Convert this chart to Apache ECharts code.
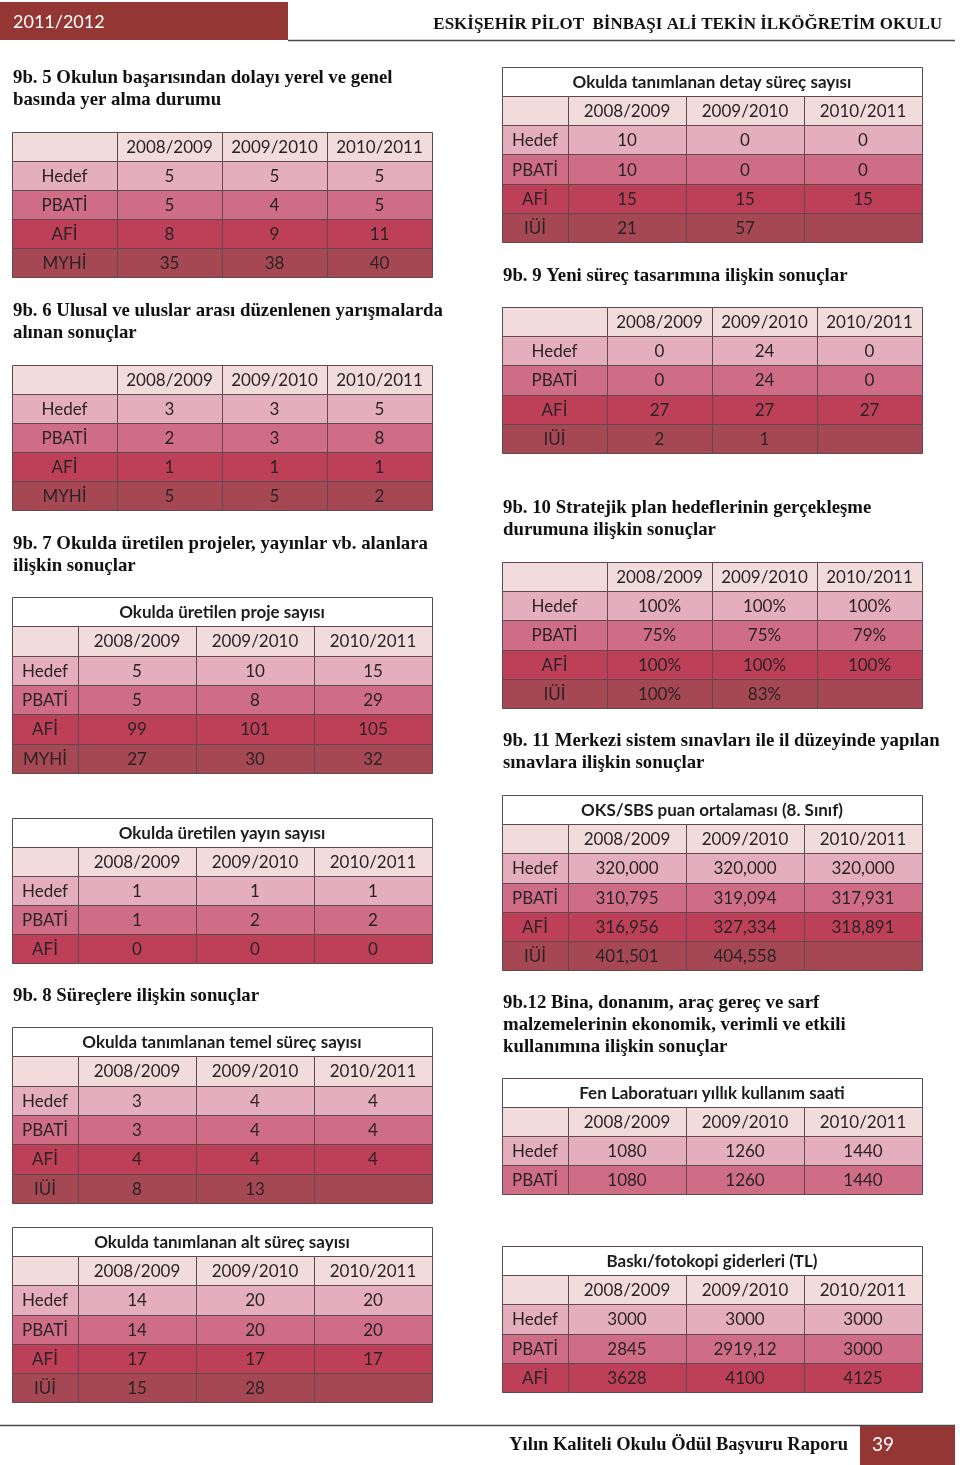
<!DOCTYPE html>
<html>
<head>
<meta charset="utf-8">
<script src="https://cdn.jsdelivr.net/npm/echarts@6/dist/echarts.min.js"></script>
<style>
  html, body { margin: 0; padding: 0; background: #fff; }
  #main { width: 960px; height: 1465px; }
</style>
</head>
<body>
<div id="main"></div>
<script>
// --- data ---
var years = ['2008/2009', '2009/2010', '2010/2011'];
var rowsMYHI = ['Hedef', 'PBATİ', 'AFİ', 'MYHİ'];
var rowsIUI = ['Hedef', 'PBATİ', 'AFİ', 'IÜİ'];
var rowsShort = ['Hedef', 'PBATİ', 'AFİ'];

var basinValues = [[5, 5, 5], [5, 4, 5], [8, 9, 11], [35, 38, 40]];
var yarismaValues = [[3, 3, 5], [2, 3, 8], [1, 1, 1], [5, 5, 2]];
var projeValues = [[5, 10, 15], [5, 8, 29], [99, 101, 105], [27, 30, 32]];
var yayinValues = [[1, 1, 1], [1, 2, 2], [0, 0, 0]];
var temelSurecValues = [[3, 4, 4], [3, 4, 4], [4, 4, 4], [8, 13, null]];
var altSurecValues = [[14, 20, 20], [14, 20, 20], [17, 17, 17], [15, 28, null]];
var detaySurecValues = [[10, 0, 0], [10, 0, 0], [15, 15, 15], [21, 57, null]];
var yeniSurecValues = [[0, 24, 0], [0, 24, 0], [27, 27, 27], [2, 1, null]];
var stratejikValues = [[100, 100, 100], [75, 75, 79], [100, 100, 100], [100, 83, null]];
var sbsValues = [[320.000, 320.000, 320.000], [310.795, 319.094, 317.931], [316.956, 327.334, 318.891], [401.501, 404.558, null]];
var fenLabValues = [[1080, 1260, 1440], [1080, 1260, 1440]];
var baskiValues = [[3000, 3000, 3000], [2845, 2919.12, 3000], [3628, 4100, 4125]];

// --- styles ---
var HEADER_FILL = '#f2dcdb';
var ROW_FILL = ['#e5aebe', '#cf6d86', '#be4058', '#a64853'];
var BORDER = '#5e4a4e';
var TEXT = '#2a2326';
var CELL_FONT = 'Lato';

var plain = function (v) { return String(v); };
var percent = function (v) { return v + '%'; };
var decimal3 = function (v) { return v.toFixed(3).replace('.', ','); };
var comma = function (v) { return String(v).replace('.', ','); };

var wide = [1, 1, 1, 1];
var narrow = [66, 118, 118, 118];

var tables = [
  { box: [12, 132, 420, 145], weights: wide, rows: rowsMYHI, values: basinValues, fmt: plain },
  { box: [12, 365, 420, 145], weights: wide, rows: rowsMYHI, values: yarismaValues, fmt: plain },
  { box: [12, 597, 420, 176], weights: narrow, title: 'Okulda üretilen proje sayısı', rows: rowsMYHI, values: projeValues, fmt: plain },
  { box: [12, 818, 420, 145], weights: narrow, title: 'Okulda üretilen yayın sayısı', rows: rowsShort, values: yayinValues, fmt: plain },
  { box: [12, 1027, 420, 176], weights: narrow, title: 'Okulda tanımlanan temel süreç sayısı', rows: rowsIUI, values: temelSurecValues, fmt: plain },
  { box: [12, 1227, 420, 175], weights: narrow, title: 'Okulda tanımlanan alt süreç sayısı', rows: rowsIUI, values: altSurecValues, fmt: plain },
  { box: [502, 67, 420, 175], weights: narrow, title: 'Okulda tanımlanan detay süreç sayısı', rows: rowsIUI, values: detaySurecValues, fmt: plain },
  { box: [502, 307, 420, 146], weights: wide, rows: rowsIUI, values: yeniSurecValues, fmt: plain },
  { box: [502, 562, 420, 146], weights: wide, rows: rowsIUI, values: stratejikValues, fmt: percent },
  { box: [502, 795, 420, 175], weights: narrow, title: 'OKS/SBS puan ortalaması (8. Sınıf)', rows: rowsIUI, values: sbsValues, fmt: decimal3 },
  { box: [502, 1078, 420, 116], weights: narrow, title: 'Fen Laboratuarı yıllık kullanım saati', rows: rowsShort, values: fenLabValues, fmt: plain },
  { box: [502, 1246, 420, 146], weights: narrow, title: 'Baskı/fotokopi giderleri (TL)', rows: rowsShort, values: baskiValues, fmt: comma }
];

var sectionTitles = [
  { x: 13, y: 78, text: '9b. 5 Okulun başarısından dolayı yerel ve genel\nbasında yer alma durumu' },
  { x: 13, y: 311, text: '9b. 6 Ulusal ve uluslar arası düzenlenen yarışmalarda\nalınan sonuçlar' },
  { x: 13, y: 544, text: '9b. 7 Okulda üretilen projeler, yayınlar vb. alanlara\nilişkin sonuçlar' },
  { x: 13, y: 996, text: '9b. 8 Süreçlere ilişkin sonuçlar' },
  { x: 503, y: 276, text: '9b. 9 Yeni süreç tasarımına ilişkin sonuçlar' },
  { x: 503, y: 508, text: '9b. 10 Stratejik plan hedeflerinin gerçekleşme\ndurumuna ilişkin sonuçlar' },
  { x: 503, y: 741, text: '9b. 11 Merkezi sistem sınavları ile il düzeyinde yapılan\nsınavlara ilişkin sonuçlar' },
  { x: 503, y: 1003, text: '9b.12 Bina, donanım, araç gereç ve sarf\nmalzemelerinin ekonomik, verimli ve etkili\nkullanımına ilişkin sonuçlar' }
];

var grids = [], xAxes = [], yAxes = [], series = [];

tables.forEach(function (t, idx) {
  var cells = [];
  var r = 0;
  if (t.title) {
    cells.push({ col: 0, span: 4, row: r, text: t.title, fill: '#ffffff', bold: true });
    r++;
  }
  cells.push({ col: 0, span: 1, row: r, text: '', fill: HEADER_FILL });
  years.forEach(function (y, i) {
    cells.push({ col: i + 1, span: 1, row: r, text: y, fill: HEADER_FILL });
  });
  r++;
  t.values.forEach(function (vals, k) {
    var fill = ROW_FILL[Math.min(k, 3)];
    cells.push({ col: 0, span: 1, row: r, text: t.rows[k], fill: fill });
    vals.forEach(function (v, i) {
      cells.push({ col: i + 1, span: 1, row: r, text: v == null ? '' : t.fmt(v), fill: fill });
    });
    r++;
  });

  var edges = [0];
  t.weights.forEach(function (w) { edges.push(edges[edges.length - 1] + w); });
  var rowCats = [];
  for (var i = 0; i < r; i++) rowCats.push(String(i));

  grids.push({ left: t.box[0], top: t.box[1], width: t.box[2], height: t.box[3], containLabel: false });
  xAxes.push({ gridIndex: idx, type: 'value', min: 0, max: edges[edges.length - 1], show: false });
  yAxes.push({ gridIndex: idx, type: 'category', data: rowCats, inverse: true, show: false });

  series.push({
    type: 'custom',
    xAxisIndex: idx,
    yAxisIndex: idx,
    silent: true,
    data: cells.map(function (c) { return [edges[c.col], c.row]; }),
    renderItem: function (params, api) {
      var c = cells[params.dataIndex];
      var x0 = api.coord([edges[c.col], c.row])[0];
      var x1 = api.coord([edges[c.col + c.span], c.row])[0];
      var cy = api.coord([0, c.row])[1];
      var h = api.size([0, 1])[1];
      var y0 = Math.round(cy - h / 2) + 0.5;
      var y1 = Math.round(cy + h / 2) + 0.5;
      var rx0 = Math.round(x0) + 0.5, rx1 = Math.round(x1) + 0.5;
      return {
        type: 'group',
        children: [
          {
            type: 'rect',
            shape: { x: rx0, y: y0, width: rx1 - rx0, height: y1 - y0 },
            style: { fill: c.fill, stroke: BORDER, lineWidth: 1 }
          },
          {
            type: 'text',
            style: {
              text: c.text,
              x: (x0 + x1) / 2,
              y: cy + 1,
              align: 'center',
              verticalAlign: 'middle',
              fontFamily: CELL_FONT,
              fontSize: 17,
              fontWeight: c.bold ? 'bold' : 'normal',
              fill: c.bold ? '#1c1c1c' : TEXT
            }
          }
        ]
      };
    }
  });
});

var graphics = [
  { type: 'rect', shape: { x: 0, y: 2, width: 288, height: 38 }, style: { fill: '#943634' } },
  { type: 'text', style: { text: '2011/2012', x: 13, y: 22, verticalAlign: 'middle', fontFamily: 'Lato', fontSize: 18, fill: '#ffffff' } },
  { type: 'line', shape: { x1: 288, y1: 40.5, x2: 955, y2: 40.5 }, style: { stroke: '#4a4a4a', lineWidth: 1.5 } },
  { type: 'text', style: { text: 'ESKİŞEHİR PİLOT  BİNBAŞI ALİ TEKİN İLKÖĞRETİM OKULU', x: 942, y: 25, align: 'right', verticalAlign: 'middle', fontFamily: 'Liberation Serif', fontWeight: 'bold', fontSize: 17, fill: '#111' } },
  { type: 'line', shape: { x1: 0, y1: 1425.5, x2: 955, y2: 1425.5 }, style: { stroke: '#4a4a4a', lineWidth: 1.5 } },
  { type: 'rect', shape: { x: 860, y: 1426, width: 95, height: 39 }, style: { fill: '#943634' } },
  { type: 'text', style: { text: '39', x: 872, y: 1445, verticalAlign: 'middle', fontFamily: 'Lato', fontSize: 19, fill: '#ffffff' } },
  { type: 'text', style: { text: 'Yılın Kaliteli Okulu Ödül Başvuru Raporu', x: 848, y: 1445, align: 'right', verticalAlign: 'middle', fontFamily: 'Liberation Serif', fontWeight: 'bold', fontSize: 18.5, fill: '#111' } }
];
sectionTitles.forEach(function (s) {
  graphics.push({
    type: 'text',
    style: {
      text: s.text, x: s.x, y: s.y - 11, verticalAlign: 'top', lineHeight: 22,
      fontFamily: 'Liberation Serif', fontWeight: 'bold', fontSize: 18.8, fill: '#111'
    }
  });
});

var chart = echarts.init(document.getElementById('main'));
chart.setOption({
  backgroundColor: '#ffffff',
  animation: false,
  grid: grids,
  xAxis: xAxes,
  yAxis: yAxes,
  series: series,
  graphic: graphics
});
</script>
</body>
</html>
